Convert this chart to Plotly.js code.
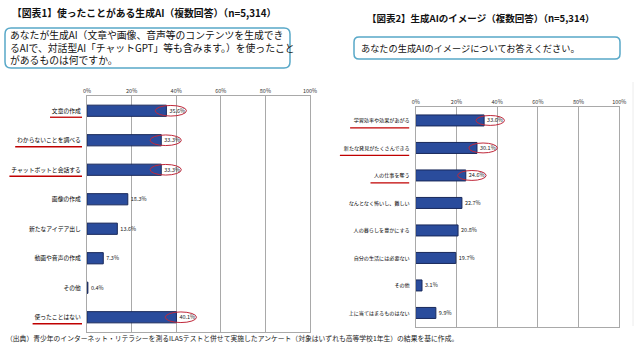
<!DOCTYPE html>
<html><head><meta charset="utf-8">
<script src="https://cdn.plot.ly/plotly-3.0.1.min.js"></script>
<style>html,body{margin:0;padding:0;background:#fff;}#chart{width:640px;height:353px;}</style>
</head><body><div id="chart"></div>
<script>
// ---- data ----
const leftTitle = '【図表1】使ったことがある生成AI（複数回答）（n=5,314）';
const leftQuestion = ['あなたが生成AI（文章や画像、音声等のコンテンツを生成でき','るAIで、対話型AI「チャットGPT」等も含みます。）を使ったこと','があるものは何ですか。'];
const leftCats = ['文章の作成','わからないことを調べる','チャットボットと会話する','画像の作成','新たなアイデア出し','動画や音声の作成','その他','使ったことはない'];
const leftVals = [35.6, 33.3, 33.3, 18.3, 13.6, 7.3, 0.4, 40.1];
const leftMarked = [true, true, true, false, false, false, false, true];

const rightTitle = '【図表2】生成AIのイメージ（複数回答）（n=5,314）';
const rightQuestion = ['あなたの生成AIのイメージについてお答えください。'];
const rightCats = ['学習効率や効果があがる','新たな発見がたくさんできる','人の仕事を奪う','なんとなく怖いし、難しい','人の暮らしを豊かにする','自分の生活には必要ない','その他','上に当てはまるものはない'];
const rightVals = [33.6, 30.1, 24.6, 22.7, 20.8, 19.7, 3.1, 9.9];
const rightMarked = [true, true, true, false, false, false, false, false];

const footnote = '（出典）青少年のインターネット・リテラシーを測るILASテストと併せて実施したアンケート（対象はいずれも高等学校1年生）の結果を基に作成。';
const tickVals = [0, 20, 40, 60, 80, 100];

// ---- helpers ----
const W = 640, H = 353;
const px = x => x / W, py = y => 1 - y / H;
const FONT = '"Noto Sans CJK JP", "Noto Sans", sans-serif';
const barColor = '#2a4c9c', barLine = '#18285a', red = '#c0283a', grid = '#a9a9a9';

function roundRect(x0, y0, x1, y1, r) {
  const rx = r / W, ry = r / H;
  const a = px(x0), b = px(x1), t = py(y0), u = py(y1);
  return `M ${a+rx},${t} L ${b-rx},${t} Q ${b},${t} ${b},${t-ry} L ${b},${u+ry} Q ${b},${u} ${b-rx},${u} L ${a+rx},${u} Q ${a},${u} ${a},${u+ry} L ${a},${t-ry} Q ${a},${t} ${a+rx},${t} Z`;
}

const L = {x0: 87, x1: 310, y0: 96, y1: 332};
const R = {x0: 415.7, x1: 619.3, y0: 106.7, y1: 326.7};

function barTrace(cats, vals, xa, ya, w) {
  return {
    type: 'bar', orientation: 'h', y: cats, x: vals, xaxis: xa, yaxis: ya,
    width: w,
    marker: {color: barColor, line: {color: barLine, width: 1}},
    text: vals.map(v => v.toFixed(1) + '%'),
    textposition: 'outside', constraintext: 'none', cliponaxis: false,
    textfont: {family: FONT, size: 5.5, color: '#222'},
    hoverinfo: 'skip'
  };
}

const data = [
  barTrace(leftCats, leftVals, 'x', 'y', 0.38),
  barTrace(rightCats, rightVals, 'x2', 'y2', 0.4)
];

function xAxis(box, anchor) {
  return {
    domain: [px(box.x0), px(box.x1)], range: [0, 100], side: 'top', anchor: anchor,
    tickvals: tickVals, ticktext: tickVals.map(v => v + '%'),
    showgrid: true, gridcolor: grid, gridwidth: 1, zeroline: false,
    showline: true, mirror: true, linecolor: grid, linewidth: 1, ticks: '',
    tickfont: {family: FONT, size: 5.5, color: '#333'}, fixedrange: true
  };
}
function yAxis(box, anchor, fs) {
  return {
    domain: [py(box.y1), py(box.y0)], type: 'category', autorange: 'reversed', anchor: anchor,
    showgrid: false, zeroline: false, showline: true, mirror: true, linecolor: grid, ticks: '',
    ticklabelstandoff: 4,
    tickfont: {family: FONT, size: fs, color: '#000'}, fixedrange: true
  };
}

const shapes = [];
// question boxes
shapes.push({type: 'path', xref: 'paper', yref: 'paper', path: roundRect(5, 28, 290, 68, 6), line: {color: '#58a8c8', width: 1.5}, fillcolor: 'rgba(0,0,0,0)'});
shapes.push({type: 'path', xref: 'paper', yref: 'paper', path: roundRect(354, 37, 620, 59, 5), line: {color: '#58a8c8', width: 1.5}, fillcolor: 'rgba(0,0,0,0)'});
// faint separator
shapes.push({type: 'line', xref: 'paper', yref: 'paper', x0: px(633), x1: px(633), y0: py(82), y1: py(326), line: {color: '#ececec', width: 1}});

// underlines and ellipses
function marks(cats, vals, flags, xa, ya, box, charW, gap, dy, e0, e1) {
  cats.forEach((c, i) => {
    if (!flags[i]) return;
    const xr = box.x0 - gap;
    const wpx = c.length * charW + 3;
    shapes.push({type: 'line', xref: 'paper', yref: ya, x0: px(xr - wpx), x1: px(xr), y0: i + dy, y1: i + dy, line: {color: '#c00000', width: 1.3}});
    shapes.push({type: 'circle', xref: xa, yref: ya, x0: vals[i] - e0, x1: vals[i] + e1, y0: i - 0.18, y1: i + 0.18, line: {color: red, width: 1}, fillcolor: 'rgba(0,0,0,0)'});
  });
}
marks(leftCats, leftVals, leftMarked, 'x', 'y', L, 5.8, 5, 0.22, 5, 9);
marks(rightCats, rightVals, rightMarked, 'x2', 'y2', R, 5.1, 6.5, 0.27, 4, 10);

const annotations = [
  {xref: 'paper', yref: 'paper', x: px(10), y: py(13), xanchor: 'left', yanchor: 'middle', showarrow: false, text: '<b>' + leftTitle + '</b>', font: {family: FONT, size: 9.8, color: '#111'}},
  {xref: 'paper', yref: 'paper', x: px(365), y: py(18), xanchor: 'left', yanchor: 'middle', showarrow: false, text: '<b>' + rightTitle + '</b>', font: {family: FONT, size: 9.5, color: '#111'}},
  {xref: 'paper', yref: 'paper', x: px(7.5), y: py(48), xanchor: 'left', yanchor: 'middle', align: 'left', showarrow: false, text: leftQuestion.join('<br>'), font: {family: FONT, size: 9.8, color: '#111'}},
  {xref: 'paper', yref: 'paper', x: px(359), y: py(48), xanchor: 'left', yanchor: 'middle', align: 'left', showarrow: false, text: rightQuestion.join('<br>'), font: {family: FONT, size: 9.2, color: '#111'}},
  {xref: 'paper', yref: 'paper', x: px(4), y: py(338), xanchor: 'left', yanchor: 'middle', showarrow: false, text: footnote, font: {family: FONT, size: 6.8, color: '#222'}}
];

const layout = {
  width: W, height: H, margin: {l: 0, r: 0, t: 0, b: 0},
  paper_bgcolor: '#fff', plot_bgcolor: '#fff', showlegend: false,
  font: {family: FONT},
  xaxis: xAxis(L, 'y'), yaxis: yAxis(L, 'x', 5.8),
  xaxis2: xAxis(R, 'y2'), yaxis2: yAxis(R, 'x2', 5.1),
  shapes: shapes, annotations: annotations
};

Plotly.newPlot('chart', data, layout, {staticPlot: true, displayModeBar: false});
</script></body></html>
